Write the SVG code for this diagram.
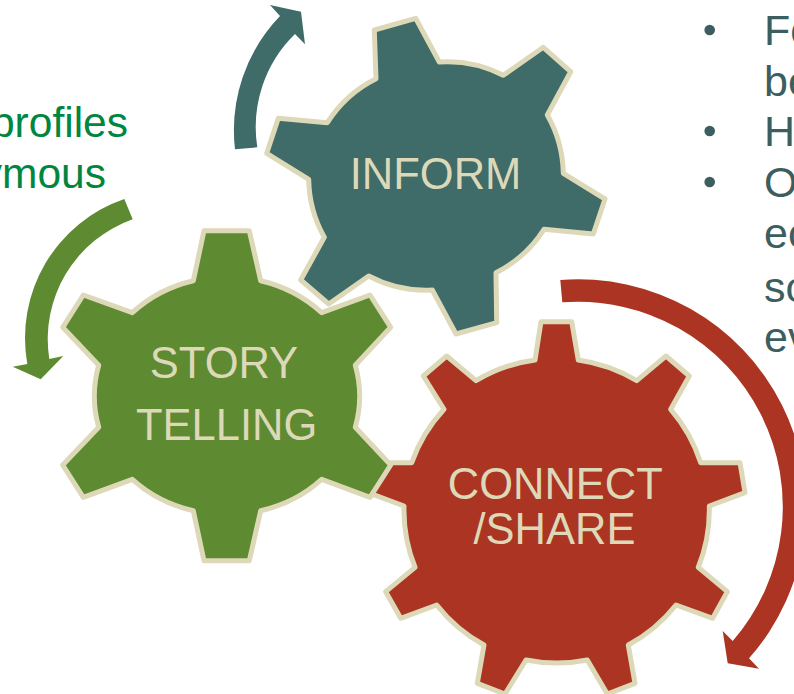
<svg xmlns="http://www.w3.org/2000/svg" width="794" height="694" viewBox="0 0 794 694">
<style>
text{font-family:"Liberation Sans",Arial,sans-serif}
.gear{stroke:#DDD9B8;stroke-width:5;stroke-linejoin:round}
.label{fill:#DDD9B8;font-size:43.5px;text-anchor:middle}
.body{fill:#3D5E5E;font-size:43px}
.note{fill:#00863F;font-size:42.5px;text-anchor:end}
.bullet{fill:#3D5E5E}
</style>
<rect width="794" height="694" fill="#FFFFFF"/>
<g id="connectors">
<path id="arrow-inform" fill="#3F6B68" d="M235,149.3 A165 165 0 0 1 280,16 L270,5 L301,11.7 L305,44.3 L295,34 A130 130 0 0 0 257.3,147.3 Z"/>
<path id="arrow-story" fill="#5E8B32" d="M124.3,199 A147 147 0 0 0 27.3,364 L12.7,366.7 L40.7,379.3 L63.3,356 L49.3,359 A127 127 0 0 1 132.7,219.3 Z"/>
<path id="arrow-connect" fill="#AB3522" d="M560.3,280 A228 228 0 0 1 749,658.3 L759,668.7 L727.7,663.3 L722.7,631 L732.7,641 A205 205 0 0 0 562.3,302.3 Z"/>
</g>
<g id="node-connect">
<path class="gear" fill="#AB3522" d="M541,321.7 L571.7,321.7 L578.3,360 A154 154 0 0 1 636.7,380.7 L666,356 L689.3,376 L670.7,409.3 A154 154 0 0 1 700.7,462.7 L740,462.7 L745,492.7 L709.3,506 A154 154 0 0 1 698.3,567.3 L727.3,591.7 L712.7,618.3 L676,605 A154 154 0 0 1 628.3,645 L635,683.3 L607.3,694 L587.3,660 A154 154 0 0 1 526,660 L505,694 L477.3,683.3 L484,645 A154 154 0 0 1 436.7,605 L400.7,618.3 L385.7,591.7 L415,567.3 A154 154 0 0 1 404,506 L368,492.7 L373,462.7 L411.7,462.7 A154 154 0 0 1 444,409.3 L423.3,376 L446.7,356 L476,380.7 A154 154 0 0 1 535,360 Z"/>
<text class="label" x="555.3" y="498.5">CONNECT</text>
<text class="label" x="554.5" y="543.5">/SHARE</text>
</g>
<g id="node-inform">
<path class="gear" fill="#3F6B68" d="M374.3,30 L415.7,18.3 L439.3,62 A122 122 0 0 1 503.3,75.3 L543.3,47.3 L570.7,71.7 L547.3,115 A122 122 0 0 1 563.3,173.3 L605,199 L593.3,234 L544,229.3 A122 122 0 0 1 496,272.7 L496.7,322.7 L456,334 L432.3,290 A122 122 0 0 1 368.7,276 L328.7,304 L300.7,280 L324.3,237.3 A122 122 0 0 1 308.7,179.3 L266.7,153.3 L278.3,118.3 L327.3,122.7 A122 122 0 0 1 376,78.7 Z"/>
<text class="label" x="435.5" y="189">INFORM</text>
</g>
<g id="node-story">
<path class="gear" fill="#5E8B32" d="M204,230.7 L249.3,230.7 L260.7,280.7 A132 122 0 0 1 321.7,312.7 L370,295 L390.7,327.3 L355.3,365.3 A132 122 0 0 1 355.3,427.3 L390.7,465 L370,497.3 L321.7,479.3 A132 122 0 0 1 260.7,510.7 L249.3,560.7 L204,560.7 L193.3,510.7 A132 122 0 0 1 132.3,479.3 L83.3,497.3 L62.7,465 L98.7,427.3 A132 122 0 0 1 98.7,365.3 L62.7,327.3 L83.3,295 L132.3,312.7 A132 122 0 0 1 193.3,280.7 Z"/>
<text class="label" x="224" y="378">STORY</text>
<text class="label" x="226.7" y="440">TELLING</text>
</g>
<g id="note-left">
<text class="note" x="128" y="137">profiles</text>
<text class="note" x="106" y="188">ymous</text>
</g>
<g id="note-right">
<circle class="bullet" cx="709.7" cy="30" r="5.3"/>
<circle class="bullet" cx="709.7" cy="131" r="5.3"/>
<circle class="bullet" cx="709.7" cy="182" r="5.3"/>
<text class="body" x="764" y="45">Fo</text>
<text class="body" x="764" y="96">be</text>
<text class="body" x="764" y="146">H</text>
<text class="body" x="764" y="197">O</text>
<text class="body" x="764" y="248">ec</text>
<text class="body" x="764" y="302">sc</text>
<text class="body" x="764" y="352">ev</text>
</g>
</svg>
